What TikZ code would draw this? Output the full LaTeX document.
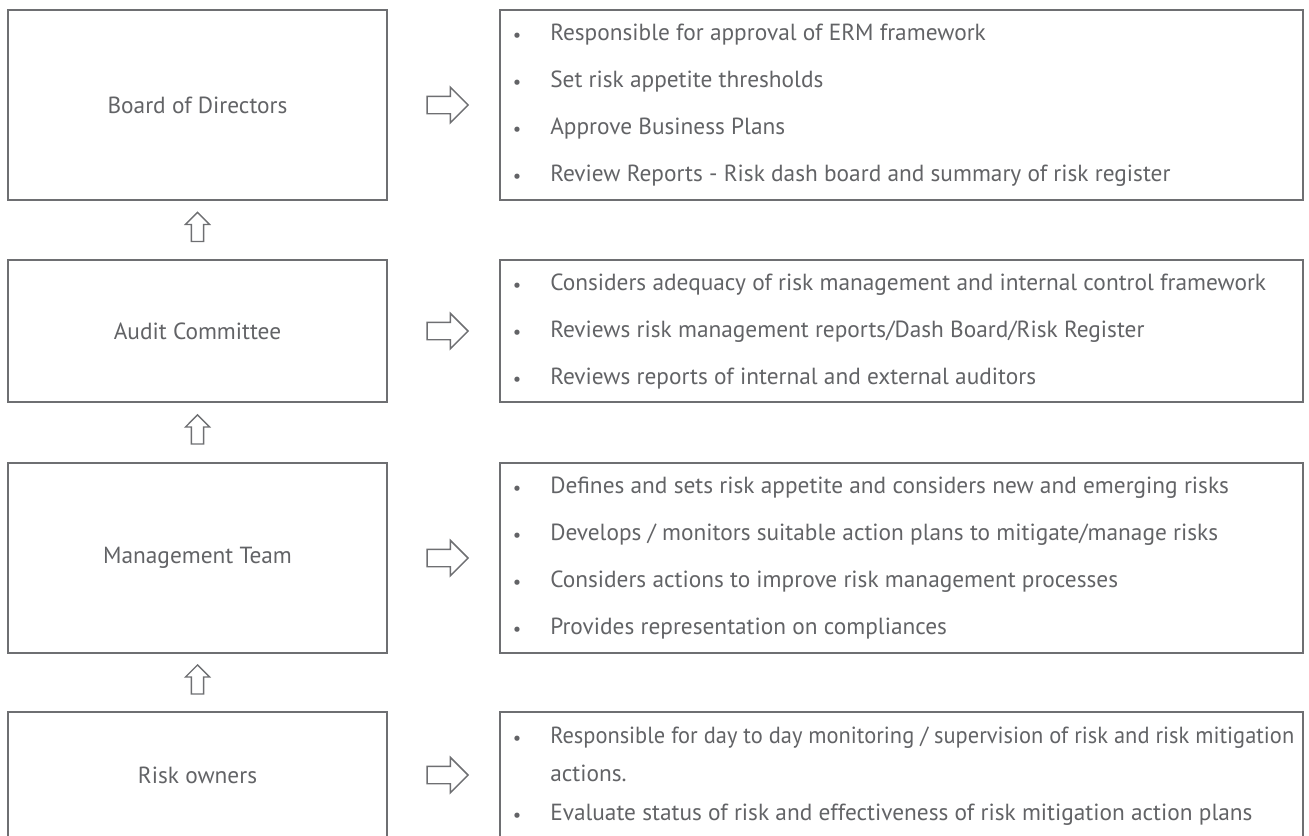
\documentclass[tikz,border=0pt]{standalone}
\usepackage{graphicx}
\usepackage{fontspec}
\setmainfont{PT Sans}
\usetikzlibrary{calc,shapes.arrows}

\definecolor{frameGray}{RGB}{110,111,114}
\definecolor{inkGray}{RGB}{98,99,102}

\tikzset{
    roleBox/.style={draw=frameGray, line width=1.5pt, minimum width=284pt, text=inkGray, font=\fontsize{17.5}{20}\selectfont, inner sep=0pt},
    dutyBox/.style={draw=frameGray, line width=1.5pt, minimum width=602.25pt, inner sep=0pt},
    dutyText/.style={text=inkGray, font=\fontsize{17.5}{20}\selectfont, inner sep=0pt, anchor=mid west},
    dutyDot/.style={text=inkGray, font=\fontsize{14}{14}\selectfont, inner sep=0pt},
    sideArrow/.style={shape=single arrow, draw=frameGray, line width=1.1pt, fill=white, inner sep=6pt, minimum width=25.5pt, minimum height=30.75pt, single arrow head extend=6.75pt},
    upArrow/.style={shape=single arrow, draw=frameGray, line width=1pt, fill=white, inner sep=4.1pt, minimum width=17.25pt, minimum height=21.75pt, single arrow head extend=4.5pt, rotate=90},
}

\begin{document}
\begin{tikzpicture}[x=0.75pt, y=-0.75pt]
    \useasboundingbox (0,0) rectangle (1309,835);
    \clip (0,0) rectangle (1309,835);

    % left column
    \node[roleBox, minimum height=142.5pt] (board) at (197.5,105) {Board of Directors};
    \node[roleBox, minimum height=106.5pt] (audit) at (197.5,331) {Audit Committee};
    \node[roleBox, minimum height=142.5pt] (mgmt) at (197.5,558) {Management Team};
    \node[roleBox, minimum height=94.5pt] (owners) at (197.5,775) {Risk owners};

    % right column
    \node[dutyBox, minimum height=142.5pt] (boardDuty) at (901,105) {};
    \node[dutyBox, minimum height=106.5pt] (auditDuty) at (901,331) {};
    \node[dutyBox, minimum height=142.5pt] (mgmtDuty) at (901,558) {};
    \node[dutyBox, minimum height=94.5pt] (ownersDuty) at (901,775) {};

    % arrows to the duties
    \node[sideArrow] (toBoard) at ($(board.east)!0.5!(boardDuty.west)$) {};
    \node[sideArrow] (toAudit) at ($(audit.east)!0.5!(auditDuty.west)$) {};
    \node[sideArrow] (toMgmt) at ($(mgmt.east)!0.5!(mgmtDuty.west)$) {};
    \node[sideArrow] (toOwners) at ($(owners.east)!0.5!(ownersDuty.west)$) {};

    % arrows up the chain
    \node[upArrow] (upBoard) at ($(audit.north)!0.5!(board.south)$) {};
    \node[upArrow] (upAudit) at ($(mgmt.north)!0.5!(audit.south)$) {};
    \node[upArrow] (upMgmt) at ($(owners.north)!0.5!(mgmt.south)$) {};

    % Board of Directors
    \node[dutyDot] (d11) at (517,37) {•};
    \node[dutyText] (t11) at (550,37) {Responsible for approval of ERM framework};
    \node[dutyDot] (d12) at (517,84) {•};
    \node[dutyText] (t12) at (550,84) {Set risk appetite thresholds};
    \node[dutyDot] (d13) at (517,131) {•};
    \node[dutyText] (t13) at (550,131) {Approve Business Plans};
    \node[dutyDot] (d14) at (517,178) {•};
    \node[dutyText] (t14) at (550,178) {Review Reports - Risk dash board and summary of risk register};

    % Audit Committee
    \node[dutyDot] (d21) at (517,287) {•};
    \node[dutyText] (t21) at (550,287) {Considers adequacy of risk management and internal control framework};
    \node[dutyDot] (d22) at (517,334) {•};
    \node[dutyText] (t22) at (550,334) {Reviews risk management reports/Dash Board/Risk Register};
    \node[dutyDot] (d23) at (517,381) {•};
    \node[dutyText] (t23) at (550,381) {Reviews reports of internal and external auditors};

    % Management Team
    \node[dutyDot] (d31) at (517,490) {•};
    \node[dutyText] (t31) at (550,490) {Defines and sets risk appetite and considers new and emerging risks};
    \node[dutyDot] (d32) at (517,537) {•};
    \node[dutyText] (t32) at (550,537) {Develops / monitors suitable action plans to mitigate/manage risks};
    \node[dutyDot] (d33) at (517,584) {•};
    \node[dutyText] (t33) at (550,584) {Considers actions to improve risk management processes};
    \node[dutyDot] (d34) at (517,631) {•};
    \node[dutyText] (t34) at (550,631) {Provides representation on compliances};

    % Risk owners
    \node[dutyDot] (d41) at (517,740) {•};
    \node[dutyText] (t41) at (550,740) {\resizebox{558pt}{\height}{Responsible for day to day monitoring / supervision of risk and risk mitigation}};
    \node[dutyText] (t41b) at (550,778) {actions.};
    \node[dutyDot] (d42) at (517,817) {•};
    \node[dutyText] (t42) at (550,817) {Evaluate status of risk and effectiveness of risk mitigation action plans};
\end{tikzpicture}
\end{document}
